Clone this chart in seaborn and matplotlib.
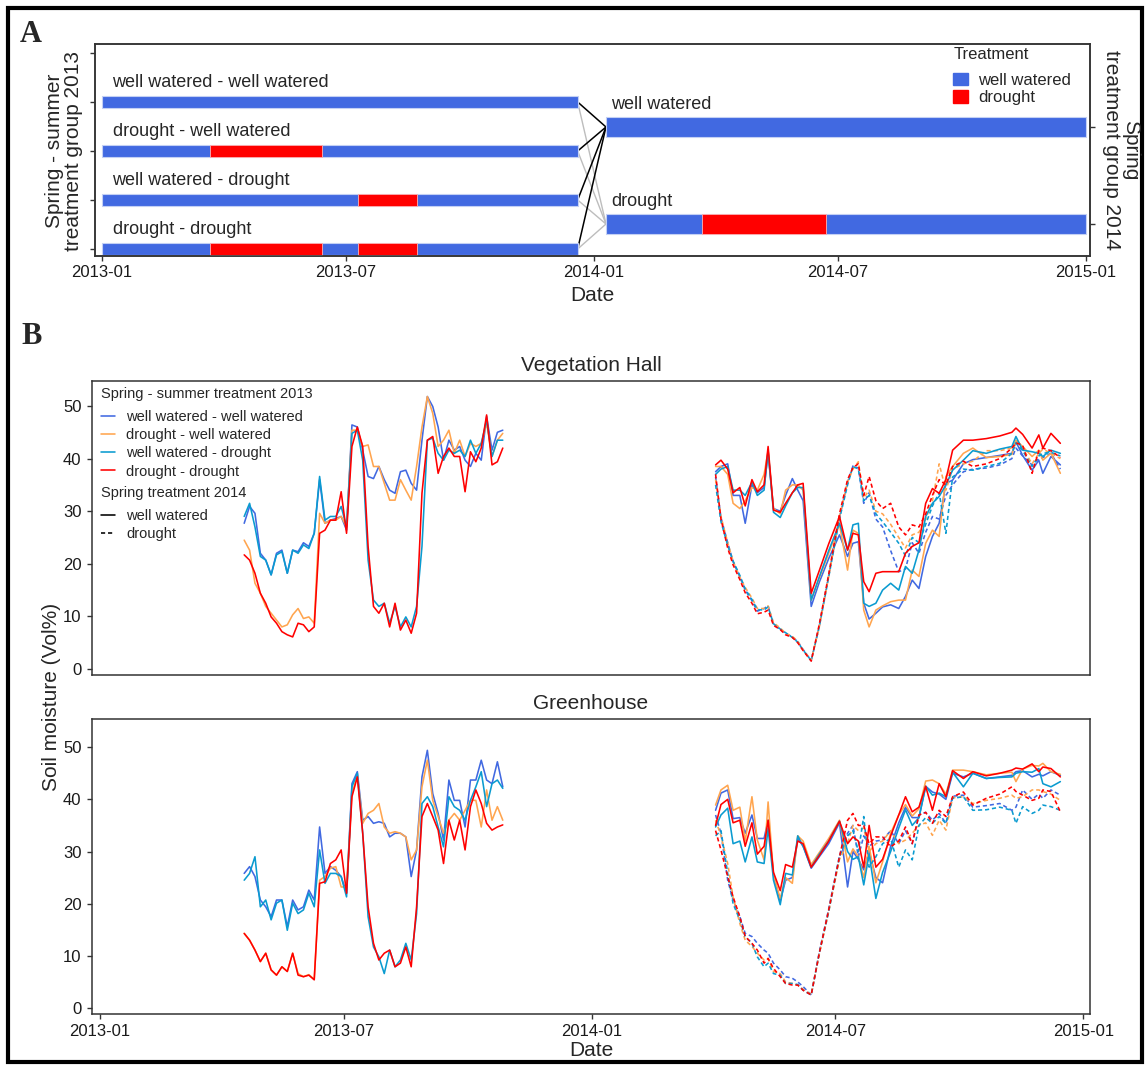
import pandas as pd
import seaborn as sns
import matplotlib.pyplot as plt
import matplotlib.dates as mdates
from matplotlib.lines import Line2D
from matplotlib.patches import Patch, Rectangle

# ---------------------------------------------------------------- data
groups = ['well watered - well watered', 'drought - well watered',
          'well watered - drought', 'drought - drought']
spring_2014 = ['well watered', 'drought']
colors = ['#4169E1', '#FFA54F', '#0A9BD0', '#FF0000']
bar_blue = '#4169E1'
bar_red = '#FF0000'

# panel A: treatment schedule
sched_2013 = ('2013-01-01', '2013-12-20')
spring_drought_2013 = ('2013-03-22', '2013-06-13')
summer_drought_2013 = ('2013-07-10', '2013-08-23')
sched_2014 = ('2014-01-10', '2015-01-01')
spring_drought_2014 = ('2014-03-22', '2014-06-22')

# panel B: measurement days (days after 1 January)
days_2013 = [107, 111, 115, 119, 123, 127, 131, 135, 139, 143, 147, 151, 155, 159, 163, 167,
             171, 175, 179, 183, 187, 191, 195, 199, 203, 207, 211, 215, 219, 223, 227, 231,
             235, 239, 243, 247, 251, 255, 259, 263, 267, 271, 275, 279, 283, 287, 291, 295, 299]
days_2014 = [92, 96, 101, 105, 110, 114, 119, 123, 128, 131, 135, 140, 144, 149, 153, 157,
             163, 169, 176, 184, 190, 194, 198, 202, 206, 211, 216, 222, 228, 233, 238, 243,
             248, 253, 258, 263, 268, 276, 283, 293, 303, 312, 315, 320, 327, 332, 335, 341, 348]

# Vegetation Hall 2013
vh13_wwww = [27.7, 30.9, 29.6, 22.0, 20.7, 17.9, 22.0, 22.6, 18.2, 22.6, 22.3, 24.0, 23.3, 25.8, 36.0, 27.7,
             28.3, 28.6, 29.0, 26.4, 46.4, 46.0, 41.6, 36.6, 36.2, 38.5, 36.0, 34.0, 33.4, 37.5, 37.8, 35.3,
             34.0, 43.5, 51.8, 49.9, 46.0, 39.7, 43.5, 41.6, 42.3, 39.7, 38.5, 41.0, 39.7, 48.0, 41.6, 45.0, 45.4]
vh13_dww = [24.5, 22.6, 16.3, 14.4, 11.9, 10.6, 9.3, 8.0, 8.4, 10.3, 11.5, 9.6, 9.9, 8.7, 29.6, 27.7,
            28.3, 28.3, 29.0, 27.0, 45.4, 45.4, 42.3, 42.6, 38.5, 38.5, 35.3, 32.1, 32.1, 36.0, 34.0, 32.1,
            38.5, 46.0, 51.8, 48.6, 42.3, 43.5, 45.4, 41.0, 43.5, 40.4, 42.9, 42.3, 42.9, 46.7, 40.4, 43.5, 44.8]
vh13_wwd = [29.0, 31.5, 27.0, 21.4, 20.7, 17.9, 21.7, 22.3, 18.2, 22.6, 22.0, 23.6, 22.9, 25.8, 36.6, 28.3,
            29.0, 29.0, 30.9, 27.0, 44.8, 45.4, 39.7, 20.7, 13.1, 11.9, 12.5, 8.7, 11.9, 8.0, 9.9, 8.0,
            11.9, 23.3, 43.5, 43.9, 41.0, 39.7, 41.6, 41.0, 41.6, 40.4, 43.5, 41.0, 42.9, 47.3, 40.4, 43.5, 43.5]
vh13_dd = [21.7, 20.7, 18.2, 14.4, 12.5, 9.9, 8.7, 7.1, 6.5, 6.1, 8.7, 8.4, 7.1, 8.0, 25.8, 26.4,
           28.3, 28.3, 33.7, 25.8, 42.3, 46.0, 42.3, 23.3, 11.9, 10.6, 12.5, 8.0, 12.5, 7.4, 9.3, 6.8,
           10.6, 33.4, 43.5, 44.2, 37.2, 40.4, 42.0, 40.4, 40.4, 33.7, 41.3, 39.4, 42.0, 48.3, 38.8, 39.4, 42.0]

# Vegetation Hall 2014 (_w = well watered in spring 2014, _d = drought in spring 2014)
vh14_wwww_w = [37.5, 38.5, 39.0, 33.0, 33.0, 27.7, 35.0, 33.5, 34.5, 41.0, 30.5, 30.0, 33.0, 36.2, 34.0, 32.0,
               11.9, 16.5, 21.0, 25.5, 21.4, 23.9, 24.2, 12.5, 9.5, 10.6, 11.8, 12.2, 11.5, 13.8, 16.9, 15.3,
               21.4, 25.2, 27.7, 35.3, 35.9, 39.0, 39.8, 40.2, 40.6, 41.0, 43.2, 40.6, 37.8, 39.7, 37.2, 40.4, 38.8]
vh14_dww_w = [38.5, 38.5, 37.0, 31.5, 30.5, 32.0, 34.5, 34.0, 37.0, 41.5, 30.5, 29.5, 34.0, 35.0, 35.0, 34.0,
              13.1, 17.3, 22.0, 27.5, 18.8, 26.4, 25.8, 11.2, 8.0, 11.2, 12.0, 12.8, 13.1, 13.1, 18.8, 17.6,
              23.9, 26.4, 25.2, 36.6, 38.5, 41.0, 42.0, 40.2, 40.4, 40.8, 43.5, 42.3, 40.4, 41.6, 39.7, 41.0, 37.2]
vh14_wwd_w = [37.0, 38.0, 38.5, 34.0, 34.0, 33.0, 35.5, 33.0, 34.0, 41.5, 29.8, 28.8, 31.0, 33.5, 34.5, 34.5,
              13.1, 17.5, 22.5, 27.7, 22.6, 27.4, 27.7, 12.5, 11.9, 12.5, 15.0, 16.3, 15.0, 19.5, 18.2, 22.6,
              29.0, 31.5, 32.8, 35.0, 37.8, 39.7, 41.5, 41.0, 41.8, 42.3, 44.2, 41.6, 41.3, 41.0, 40.4, 41.6, 41.0]
vh14_dd_w = [38.8, 39.7, 38.0, 33.5, 34.5, 31.0, 36.0, 33.7, 35.0, 42.3, 30.2, 29.8, 31.5, 33.5, 35.0, 35.3,
             14.4, 18.7, 23.8, 29.0, 22.6, 25.8, 25.5, 16.6, 14.7, 18.2, 18.5, 18.5, 18.5, 22.0, 23.3, 24.0,
             31.5, 34.3, 33.4, 36.0, 41.6, 43.5, 43.5, 43.8, 44.3, 45.0, 45.8, 44.6, 42.0, 44.5, 42.0, 44.8, 42.9]
vh14_wwww_d = [36.5, 28.8, 24.0, 20.4, 17.5, 15.0, 13.0, 11.0, 11.5, 12.0, 8.5, 7.5, 6.8, 6.1, 5.2, 3.7,
               1.6, 8.2, 17.8, 28.8, 35.5, 38.6, 38.2, 31.5, 33.5, 28.5, 27.0, 22.5, 18.5, 19.0, 24.0, 22.0,
               26.0, 29.0, 28.5, 33.0, 35.0, 37.5, 38.0, 38.2, 38.8, 40.0, 42.0, 40.5, 38.8, 40.0, 40.2, 41.0, 38.0]
vh14_dww_d = [36.0, 29.0, 24.0, 20.5, 17.5, 15.5, 13.5, 11.5, 11.5, 12.0, 8.8, 7.8, 6.8, 6.2, 5.3, 3.6,
              1.7, 8.0, 17.6, 29.0, 35.5, 38.0, 39.4, 32.5, 34.0, 30.0, 29.5, 27.5, 25.0, 23.0, 25.5, 26.0,
              28.5, 32.0, 39.0, 34.0, 38.0, 39.0, 39.5, 41.5, 41.5, 42.0, 43.5, 42.0, 39.0, 41.0, 41.8, 41.0, 40.0]
vh14_wwd_d = [35.0, 28.0, 23.5, 20.5, 17.8, 15.2, 13.2, 11.3, 11.2, 11.8, 8.6, 7.6, 6.9, 6.0, 5.1, 3.6,
              1.6, 8.0, 17.5, 28.5, 35.0, 38.5, 38.0, 32.0, 33.0, 29.5, 28.0, 26.0, 23.9, 21.5, 25.0, 24.0,
              27.5, 31.0, 33.5, 25.8, 36.5, 38.0, 37.8, 38.5, 39.1, 41.0, 43.0, 41.5, 38.5, 40.5, 41.0, 41.2, 40.5]
vh14_dd_d = [37.0, 28.5, 23.0, 19.8, 17.0, 14.5, 12.5, 10.5, 10.8, 11.2, 8.3, 7.5, 6.5, 6.0, 5.0, 3.5,
             1.5, 8.5, 18.0, 29.5, 36.0, 38.3, 39.0, 33.0, 36.6, 32.0, 30.5, 31.5, 27.0, 25.5, 27.4, 27.0,
             29.5, 33.0, 36.0, 35.0, 38.5, 39.5, 38.5, 39.0, 40.0, 42.0, 43.0, 42.5, 37.2, 41.5, 42.0, 41.5, 40.2]

# Greenhouse 2013
gh13_wwww = [25.8, 27.1, 25.2, 20.7, 19.4, 17.5, 20.7, 20.7, 15.6, 20.7, 18.8, 19.4, 22.6, 20.7, 34.7, 25.8,
             27.1, 26.4, 25.2, 22.0, 43.0, 45.3, 36.0, 36.7, 35.4, 35.7, 35.4, 32.8, 33.5, 33.5, 32.8, 25.2,
             30.3, 44.3, 49.4, 41.1, 37.3, 32.2, 43.7, 39.8, 39.8, 34.7, 43.7, 43.7, 47.5, 43.7, 43.0, 47.2, 42.4]
gh13_dww = [14.3, 13.0, 11.1, 8.9, 10.5, 7.3, 6.3, 7.9, 7.0, 10.5, 6.6, 6.0, 6.4, 5.5, 24.5, 25.2,
            26.8, 27.1, 23.2, 23.2, 41.1, 44.6, 35.4, 37.3, 37.9, 39.2, 34.7, 33.5, 33.8, 33.5, 32.8, 28.4,
            30.3, 42.4, 47.5, 39.8, 36.7, 33.5, 36.0, 37.3, 36.0, 37.9, 39.8, 39.8, 34.7, 41.8, 36.0, 38.6, 36.0]
gh13_wwd = [24.5, 25.8, 29.0, 19.4, 20.7, 16.9, 20.1, 20.7, 14.9, 20.1, 18.1, 18.8, 22.0, 19.4, 30.3, 23.9,
            25.8, 25.8, 25.2, 21.3, 42.4, 45.0, 33.5, 17.5, 11.7, 9.8, 6.6, 11.1, 7.9, 9.2, 12.4, 9.2,
            18.1, 39.2, 40.5, 38.6, 34.7, 30.9, 40.5, 38.6, 37.9, 36.0, 39.8, 42.4, 45.3, 38.6, 43.0, 43.7, 42.1]
gh13_dd = [14.3, 13.0, 11.1, 8.9, 10.5, 7.3, 6.3, 7.9, 7.0, 10.5, 6.3, 6.0, 6.3, 5.4, 23.9, 24.2,
           27.7, 28.4, 30.3, 22.0, 40.5, 44.3, 33.5, 19.4, 12.4, 9.2, 10.5, 11.1, 7.9, 8.6, 11.7, 7.9,
           19.4, 36.7, 39.2, 36.7, 34.1, 27.7, 36.0, 32.2, 36.0, 30.3, 38.6, 41.8, 39.2, 35.4, 34.1, 34.7, 35.1]

# Greenhouse 2014
gh14_wwww_w = [37.9, 41.2, 41.8, 36.3, 36.5, 33.5, 37.0, 32.5, 32.5, 36.0, 25.5, 20.5, 24.5, 25.0, 32.5, 31.0,
               26.8, 29.0, 31.5, 35.5, 23.2, 30.0, 28.5, 26.5, 30.0, 25.0, 24.0, 31.0, 35.5, 38.5, 36.5, 36.5,
               42.5, 41.4, 41.0, 40.0, 45.0, 44.3, 45.0, 44.0, 44.3, 44.6, 45.3, 45.5, 44.3, 44.8, 44.5, 45.3, 44.6]
gh14_dww_w = [38.9, 41.8, 42.7, 37.9, 38.5, 32.0, 40.5, 32.2, 28.4, 39.5, 25.5, 21.0, 25.0, 23.9, 33.0, 32.0,
              27.5, 29.8, 32.5, 36.0, 28.0, 30.5, 29.0, 25.0, 31.0, 24.0, 28.0, 33.5, 37.0, 39.0, 36.8, 38.2,
              43.5, 43.7, 43.0, 41.0, 45.6, 45.6, 45.3, 44.7, 45.0, 45.2, 43.4, 45.8, 46.5, 46.4, 46.9, 45.3, 44.8]
gh14_wwd_w = [34.7, 37.0, 38.3, 31.5, 32.0, 28.0, 32.8, 28.0, 27.7, 34.4, 24.5, 19.8, 25.8, 25.5, 33.0, 31.0,
              27.0, 29.5, 32.0, 35.8, 30.0, 28.5, 29.0, 23.6, 29.5, 21.0, 26.0, 30.0, 34.5, 38.0, 35.0, 36.5,
              42.5, 40.8, 41.2, 40.5, 45.2, 42.4, 45.0, 44.0, 44.2, 44.3, 45.0, 45.3, 45.2, 45.9, 43.0, 42.4, 43.4]
gh14_dd_w = [35.0, 39.0, 40.0, 35.5, 36.0, 31.0, 35.5, 29.5, 31.0, 36.0, 26.0, 22.5, 27.5, 27.0, 32.0, 31.5,
             27.0, 29.2, 32.0, 35.8, 31.5, 32.8, 32.0, 27.0, 35.0, 27.0, 28.5, 33.0, 37.0, 40.5, 37.6, 38.5,
             42.5, 37.9, 43.0, 40.5, 45.5, 44.0, 45.3, 44.5, 45.0, 45.6, 46.0, 45.8, 46.8, 45.3, 46.2, 45.9, 44.3]
gh14_wwww_d = [37.0, 33.5, 24.5, 20.7, 17.5, 14.3, 13.7, 12.4, 11.1, 10.5, 8.6, 7.3, 6.0, 5.7, 5.0, 4.1,
               2.5, 10.7, 19.0, 29.2, 33.5, 35.0, 29.0, 33.0, 31.0, 32.0, 32.2, 34.0, 31.5, 34.0, 31.5, 37.0,
               37.5, 36.0, 37.3, 35.4, 40.6, 40.8, 38.5, 38.8, 39.2, 37.9, 38.5, 41.8, 40.0, 41.0, 40.2, 41.8, 40.8]
gh14_dww_d = [36.0, 33.0, 27.7, 21.3, 16.2, 13.0, 11.8, 10.5, 9.2, 9.5, 7.0, 6.6, 5.0, 4.7, 4.4, 3.6,
              2.6, 10.3, 18.5, 28.5, 31.5, 35.0, 34.0, 34.5, 30.0, 31.5, 32.0, 34.0, 31.5, 32.2, 33.5, 35.0,
              35.5, 33.1, 36.0, 34.1, 40.3, 40.5, 39.2, 39.8, 40.2, 40.8, 40.2, 40.5, 41.8, 41.8, 41.5, 41.0, 39.8]
gh14_wwd_d = [33.0, 34.0, 25.8, 20.0, 16.9, 13.7, 12.4, 9.8, 7.9, 8.6, 6.6, 6.3, 4.7, 4.7, 4.5, 3.4,
              2.5, 10.5, 18.5, 29.0, 33.0, 34.0, 30.0, 36.7, 27.0, 29.0, 31.5, 32.5, 27.0, 30.3, 28.4, 35.0,
              36.5, 35.4, 36.7, 35.4, 40.2, 40.5, 37.9, 38.0, 38.5, 37.9, 35.4, 38.6, 37.3, 37.9, 38.9, 38.6, 37.9]
gh14_dd_d = [34.0, 30.3, 25.2, 21.3, 17.5, 13.7, 12.4, 11.1, 8.6, 9.5, 7.6, 6.0, 4.7, 4.4, 4.4, 3.4,
             2.5, 10.5, 18.8, 29.0, 36.0, 37.3, 35.0, 35.0, 31.5, 32.8, 32.8, 30.9, 32.0, 34.7, 31.5, 37.0,
             37.5, 35.4, 37.9, 36.7, 40.5, 41.4, 38.9, 40.2, 41.0, 42.4, 41.5, 40.8, 39.8, 40.2, 41.8, 41.5, 37.6]


def season(site, year, days, group, trt, values):
    dates = pd.Timestamp(f'{year}-01-01') + pd.to_timedelta(days, unit='D')
    return pd.DataFrame({'site': site, 'date': dates, 'moisture': values,
                         'group': group, 'spring2014': trt,
                         'unit': f'{year} {group} {trt}'})


frames = []
series_13 = {'Vegetation Hall': [vh13_wwww, vh13_dww, vh13_wwd, vh13_dd],
             'Greenhouse': [gh13_wwww, gh13_dww, gh13_wwd, gh13_dd]}
series_14w = {'Vegetation Hall': [vh14_wwww_w, vh14_dww_w, vh14_wwd_w, vh14_dd_w],
              'Greenhouse': [gh14_wwww_w, gh14_dww_w, gh14_wwd_w, gh14_dd_w]}
series_14d = {'Vegetation Hall': [vh14_wwww_d, vh14_dww_d, vh14_wwd_d, vh14_dd_d],
              'Greenhouse': [gh14_wwww_d, gh14_dww_d, gh14_wwd_d, gh14_dd_d]}
for site in ['Vegetation Hall', 'Greenhouse']:
    for g, v13, v14w, v14d in zip(groups, series_13[site], series_14w[site], series_14d[site]):
        frames.append(season(site, 2013, days_2013, g, 'well watered', v13))
        frames.append(season(site, 2014, days_2014, g, 'well watered', v14w))
        frames.append(season(site, 2014, days_2014, g, 'drought', v14d))
df = pd.concat(frames, ignore_index=True)

# ---------------------------------------------------------------- style
sns.set_theme(style='white')
plt.rcParams['font.family'] = ['Liberation Sans', 'DejaVu Sans']
plt.rcParams['axes.edgecolor'] = '#333333'
plt.rcParams['axes.linewidth'] = 1.1
plt.rcParams['xtick.color'] = '#333333'
plt.rcParams['ytick.color'] = '#333333'
plt.rcParams['xtick.labelcolor'] = '#1a1a1a'
plt.rcParams['ytick.labelcolor'] = '#1a1a1a'

W, H = 1148, 1065
fig = plt.figure(figsize=(W / 100, H / 100), dpi=100)


def rect(left, top, right, bottom):
    return [left / W, 1 - bottom / H, (right - left) / W, (bottom - top) / H]


tick_dates = ['2013-01-01', '2013-07-01', '2014-01-01', '2014-07-01', '2015-01-01']
tick_nums = [mdates.date2num(pd.Timestamp(t)) for t in tick_dates]


def dn(s):
    return mdates.date2num(pd.Timestamp(s))


# ---------------------------------------------------------------- panel A
axA = fig.add_axes(rect(95, 44, 1090, 256))
bar13_h, bar14_h = 0.25, 0.41
pos13 = {g: 3 - i for i, g in enumerate(groups)}
pos14 = {'well watered': 2.49, 'drought': 0.51}

for g in groups:
    y = pos13[g]
    axA.barh(y, dn(sched_2013[1]) - dn(sched_2013[0]), left=dn(sched_2013[0]), height=bar13_h,
             color=bar_blue, edgecolor='#c3d0f4', linewidth=0.8, zorder=2)
    periods = []
    if g.startswith('drought'):
        periods.append(spring_drought_2013)
    if g.endswith('drought'):
        periods.append(summer_drought_2013)
    for s, e in periods:
        axA.barh(y, dn(e) - dn(s), left=dn(s), height=bar13_h, color=bar_red,
                 edgecolor='#ffb3b3', linewidth=0.6, zorder=3)
    axA.text(dn('2013-01-09'), y + 0.39, g, ha='left', va='center', fontsize=13)

for t in spring_2014:
    y = pos14[t]
    axA.barh(y, dn(sched_2014[1]) - dn(sched_2014[0]), left=dn(sched_2014[0]), height=bar14_h,
             color=bar_blue, edgecolor='#c3d0f4', linewidth=0.8, zorder=2)
    if t == 'drought':
        s, e = spring_drought_2014
        axA.barh(y, dn(e) - dn(s), left=dn(s), height=bar14_h, color=bar_red,
                 edgecolor='#ffb3b3', linewidth=0.6, zorder=3)
    axA.text(dn('2014-01-14'), y + 0.46, t, ha='left', va='center', fontsize=13)

# connections between 2013 and 2014 groups
for g in groups:
    axA.plot([dn(sched_2013[1]), dn(sched_2014[0])], [pos13[g], pos14['drought']],
             color='#bdbdbd', lw=1.0, zorder=1)
for g in groups:
    axA.plot([dn(sched_2013[1]), dn(sched_2014[0])], [pos13[g], pos14['well watered']],
             color='black', lw=1.1, zorder=1)

axA.set_xlim(dn('2012-12-27'), dn('2015-01-04'))
axA.set_ylim(-0.143, 4.184)
axA.set_yticks([0, 1, 2, 3, 4])
axA.set_yticklabels([])
axA.set_xticks(tick_nums)
axA.xaxis.set_major_formatter(mdates.DateFormatter('%Y-%m'))
axA.tick_params(axis='both', direction='out', length=3.5, width=1.0, labelsize=12, pad=3,
                bottom=True, left=True)
axA2 = axA.twinx()
axA2.set_ylim(axA.get_ylim())
axA2.set_yticks([pos14['drought'], pos14['well watered']])
axA2.set_yticklabels([])
axA2.tick_params(axis='y', direction='out', length=3.5, width=1.0, right=True)
legA = axA.legend([Patch(color=bar_blue), Patch(color=bar_red)], spring_2014, title='Treatment',
                  loc='upper left', bbox_to_anchor=((950 - 95) / 995, 1.0), frameon=False,
                  fontsize=12, title_fontsize=12, alignment='left', borderaxespad=0.0,
                  borderpad=0.2, handlelength=0.9, handleheight=0.75, handletextpad=0.6,
                  labelspacing=0.15)
legA._legend_box.sep = 7.5

fig.text(64 / W, 1 - 151 / H, 'Spring - summer\ntreatment group 2013', rotation=90,
         ha='center', va='center', fontsize=15, linespacing=1.05, multialignment='center')
fig.text(1121 / W, 1 - 150 / H, 'Spring\ntreatment group 2014', rotation=270,
         ha='center', va='center', fontsize=15, linespacing=1.05, multialignment='center')
fig.text(592 / W, 1 - 296 / H, 'Date', ha='center', va='center', fontsize=15)

# ---------------------------------------------------------------- panel B
axB1 = fig.add_axes(rect(92, 381, 1090, 675))
axB2 = fig.add_axes(rect(92, 719, 1090, 1014))
dashes = {'well watered': '', 'drought': (2.6, 1.8)}
for ax, site, ylim in [(axB1, 'Vegetation Hall', (-1.14, 54.75)), (axB2, 'Greenhouse', (-1.15, 55.4))]:
    sns.lineplot(data=df[df['site'] == site], x='date', y='moisture', hue='group',
                 hue_order=groups, palette=colors, style='spring2014', style_order=spring_2014,
                 dashes=dashes, units='unit', estimator=None, sort=False, linewidth=1.15,
                 legend=False, ax=ax)
    ax.set_xlim(dn('2012-12-26'), dn('2015-01-06'))
    ax.set_ylim(*ylim)
    ax.set_yticks([0, 10, 20, 30, 40, 50])
    ax.set_xticks(tick_nums)
    ax.xaxis.set_major_formatter(mdates.DateFormatter('%Y-%m'))
    ax.set_xlabel('')
    ax.set_ylabel('')
    ax.set_title(site, fontsize=15, pad=7)
    ax.tick_params(axis='both', direction='out', length=3.5, width=1.0, labelsize=12, pad=4,
                   bottom=True, left=True)
axB1.tick_params(axis='x', bottom=False, labelbottom=False)

leg_kw = dict(loc='upper left', frameon=False, fontsize=10.5, title_fontsize=10.5,
              alignment='left', handlelength=1.0, handletextpad=0.75, labelspacing=0.29,
              borderpad=0.2, borderaxespad=0.2)
h13 = [Line2D([], [], color=c, lw=1.15) for c in colors]
leg1 = axB1.legend(h13, groups, title='Spring - summer treatment 2013',
                   bbox_to_anchor=(0.003, 1.0), **leg_kw)
leg1._legend_box.sep = 6.5
axB1.add_artist(leg1)
h14 = [Line2D([], [], color='black', lw=1.15),
       Line2D([], [], color='black', lw=1.15, dashes=(2.6, 1.8))]
leg2 = axB1.legend(h14, spring_2014, title='Spring treatment 2014',
                   bbox_to_anchor=(0.003, 0.662), **leg_kw)
leg2._legend_box.sep = 6.5

fig.text(52 / W, 1 - 697 / H, 'Soil moisture (Vol%)', rotation=90, ha='center', va='center',
         fontsize=15)
fig.text(591 / W, 1 - 1051 / H, 'Date', ha='center', va='center', fontsize=15)

# panel letters and outer frame
fig.text(31 / W, 1 - 34 / H, 'A', ha='center', va='center', fontsize=22, fontweight='bold',
         family=['Liberation Serif', 'DejaVu Serif'])
fig.text(32 / W, 1 - 336 / H, 'B', ha='center', va='center', fontsize=22, fontweight='bold',
         family=['Liberation Serif', 'DejaVu Serif'])
fig.add_artist(Rectangle((7.5 / W, 1 - 1062 / H), (1142 - 7.5) / W, (1062 - 7.5) / H,
                         transform=fig.transFigure, fill=False, edgecolor='black', lw=3))

fig.savefig('out.png', dpi=100)
